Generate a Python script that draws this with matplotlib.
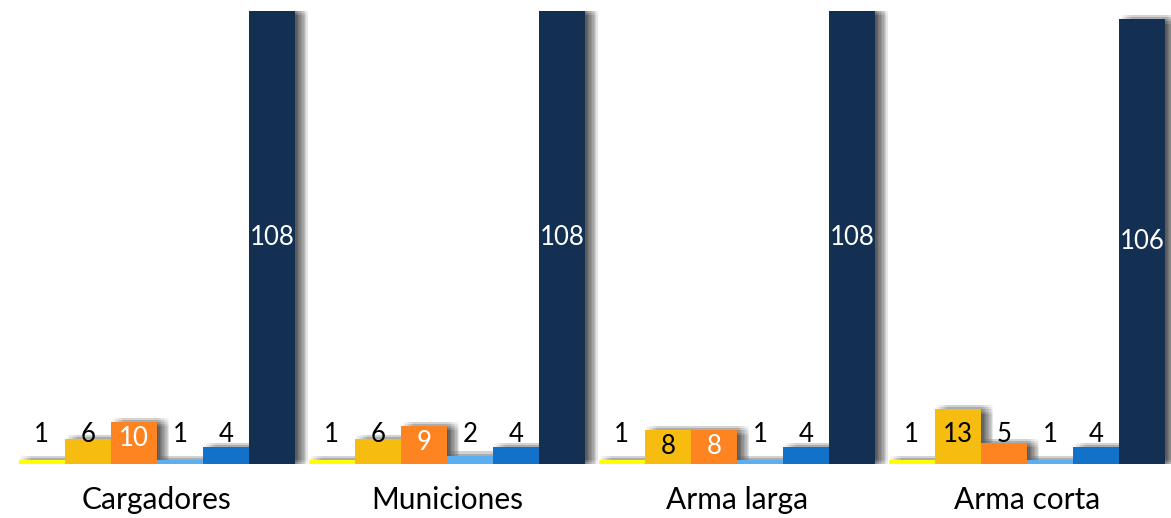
import numpy as np
import matplotlib
matplotlib.use("Agg")
import matplotlib.pyplot as plt
import matplotlib.patheffects as pe

plt.rcParams['font.family'] = ['Lato', 'DejaVu Sans']

# datos
categorias = ['Cargadores', 'Municiones', 'Arma larga', 'Arma corta']
serie_amarilla = [1, 1, 1, 1]
serie_dorada = [6, 6, 8, 13]
serie_naranja = [10, 9, 8, 5]
serie_celeste = [1, 2, 1, 1]
serie_azul = [4, 4, 4, 4]
serie_marino = [108, 108, 108, 106]

series = [serie_amarilla, serie_dorada, serie_naranja, serie_celeste, serie_azul, serie_marino]
colores = ['#FFFF00', '#F6BD10', '#FD8420', '#5BAEF0', '#1271C8', '#132F52']

# sombra difusa aproximada con varias capas
sombra = []
for dx in [1, 2, 3, 4, 5, 6, 7, 8, 9]:
    for dy in [3, 1.5, 0, -1.5, -3]:
        sombra.append(pe.SimplePatchShadow(offset=(dx, dy), shadow_rgbFace='k', alpha=0.018))
sombra.append(pe.Normal())

fig = plt.figure(figsize=(11.71, 5.18), dpi=100)
ax = fig.add_axes([0.0102, 0.1042, 0.9906, 0.8746])

x = np.arange(len(categorias))
ancho = 0.159
n = len(series)

for i, (vals, col) in enumerate(zip(series, colores)):
    pos = x + (i - (n - 1) / 2) * ancho
    barras = ax.bar(pos, vals, ancho, color=col, linewidth=0, zorder=2)
    for b in barras:
        b.set_path_effects(sombra)
    for p, v in zip(pos, vals):
        if i == n - 1:
            ax.text(p, v / 2, str(v), ha='center', va='center', color='white',
                    fontsize=18.5, zorder=5)
        elif v >= 8:
            c = 'white' if i == 2 else 'black'
            ax.text(p, min(v - 3.9, 7), str(v), ha='center', va='center', color=c,
                    fontsize=18.5, zorder=5)
        else:
            ax.text(p, 7, str(v), ha='center', va='center', color='black',
                    fontsize=18.5, zorder=5)

ax.set_xlim(-0.5, 3.5)
ax.set_ylim(0, 108)
ax.set_xticks(x)
ax.set_xticklabels(categorias, fontsize=21.5)
ax.tick_params(axis='x', length=0, pad=16)
ax.set_yticks([])
for s in ax.spines.values():
    s.set_visible(False)

fig.savefig('out.png', dpi=100)
